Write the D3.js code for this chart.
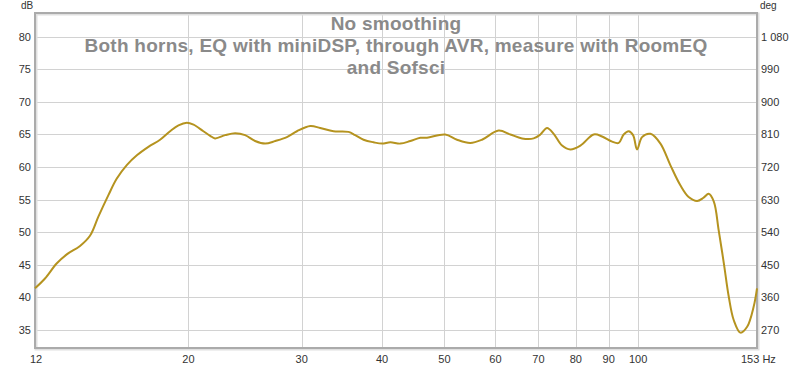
<!DOCTYPE html>
<html><head><meta charset="utf-8">
<script src="https://cdn.jsdelivr.net/npm/d3@7"></script>
<style>
html,body{margin:0;padding:0;background:#fff;}
svg{display:block;font-family:"Liberation Sans",Arial,sans-serif;}
</style></head>
<body>
<svg id="chart" width="800" height="368"></svg>
<script>
// ---- data ----
const freqs = [11.55,11.97,12.48,12.94,13.57,14.07,14.49,15.02,15.47,16.04,16.63,17.33,18.07,18.73,19.30,19.89,20.37,21.10,21.62,22.00,22.81,23.64,24.50,25.39,26.32,27.29,28.45,29.49,30.93,32.05,33.61,35.47,36.33,37.43,38.80,39.99,41.19,42.70,44.25,45.86,46.97,50.13,52.29,54.83,57.19,60.69,63.29,65.99,68.80,70.47,72.18,73.91,76.16,78.45,81.33,85.30,87.89,91.10,93.29,94.95,96.67,98.20,99.63,101.4,104.5,108.3,112.2,116.3,119.8,123.5,126.4,128.7,131.1,133.4,135.9,138.3,140.8,144.2,147.7,151.2,153];
const spl = [41.4,42.9,45.2,46.6,47.9,49.5,52.4,55.7,58.2,60.3,61.8,63.1,64.2,65.5,66.4,66.8,66.5,65.5,64.8,64.4,64.9,65.2,64.9,64.0,63.6,64.0,64.6,65.5,66.3,66.0,65.5,65.4,64.9,64.2,63.8,63.6,63.8,63.6,64.0,64.5,64.5,65.0,64.2,63.7,64.2,65.6,65.0,64.4,64.4,65.0,66.0,65.1,63.3,62.7,63.3,65.0,64.7,63.9,63.7,65.0,65.5,64.9,62.7,64.6,65.1,63.6,60.3,57.2,55.4,54.8,55.3,55.9,54.7,50.3,45.2,40.1,36.5,34.6,35.5,38.6,41.4];
const xTicks = [20,30,40,50,60,70,80,90,100];
const yTicks = [35,40,45,50,55,60,65,70,75,80];
const degTicks = [270,360,450,540,630,720,810,900,990,1080];
const titleLines = ["No smoothing","Both horns, EQ with miniDSP, through AVR, measure with RoomEQ","and Sofsci"];
const xEdgeLabels = ["12","153 Hz"];
const xDomain = [11.55,153];
const yDomain = [32.24,83.64];

// ---- layout ----
const L=35, R=757, T=13, B=348;
const svg = d3.select("#chart");
const x = d3.scaleLog().domain(xDomain).range([L,R]);
const y = d3.scaleLinear().domain(yDomain).range([B,T]);
const degOf = db => 270 + (db-35)*18;
const yDeg = d3.scaleLinear().domain(yDomain.map(degOf)).range([B,T]);

// grid
const g = svg.append("g");
g.selectAll("line.h").data(yTicks).enter().append("line")
  .attr("x1",L).attr("x2",R).attr("y1",d=>Math.round(y(d))+0.5).attr("y2",d=>Math.round(y(d))+0.5)
  .attr("stroke","#d2d2d2").attr("stroke-width",1);
g.selectAll("line.v").data(xTicks).enter().append("line")
  .attr("y1",T).attr("y2",B).attr("x1",d=>Math.round(x(d))+0.5).attr("x2",d=>Math.round(x(d))+0.5)
  .attr("stroke","#d2d2d2").attr("stroke-width",1);

// title
svg.append("g").selectAll("text").data(titleLines).enter().append("text")
  .attr("x",(L+R)/2).attr("y",(d,i)=>30+i*22)
  .attr("text-anchor","middle").attr("font-size",19).attr("letter-spacing",0.25).attr("font-weight","bold")
  .attr("fill","#8a8a8a").text(d=>d);

// frame with shadow
svg.append("rect").attr("x",L+1).attr("y",T+1).attr("width",R-L).attr("height",B-T)
  .attr("fill","none").attr("stroke","#e0e0e0").attr("stroke-width",3);
svg.append("rect").attr("x",L).attr("y",T).attr("width",R-L).attr("height",B-T)
  .attr("fill","none").attr("stroke","#ababab").attr("stroke-width",2);

// curve
const line = d3.line().x((d,i)=>x(freqs[i])).y(d=>y(d)).curve(d3.curveCatmullRom.alpha(0.5));
svg.append("path").datum(spl).attr("d",line)
  .attr("fill","none").attr("stroke","#b5931f").attr("stroke-width",2).attr("stroke-linejoin","round");

// axis labels
const lab = svg.append("g").attr("font-size",11).attr("fill","#333");
lab.selectAll("text.l").data(yTicks).enter().append("text")
  .attr("x",31).attr("y",d=>y(d)+4).attr("text-anchor","end").text(d=>d);
const fmtDeg = d => d>=1000 ? Math.floor(d/1000)+" "+String(d%1000).padStart(3,"0") : String(d);
lab.selectAll("text.r").data(degTicks).enter().append("text")
  .attr("x",761).attr("y",d=>yDeg(d)+4).attr("text-anchor","start").text(fmtDeg);
lab.selectAll("text.b").data(xTicks).enter().append("text")
  .attr("x",d=>x(d)).attr("y",363).attr("text-anchor","middle").text(d=>d);
lab.append("text").attr("x",x(xDomain[0])+1).attr("y",363).attr("text-anchor","middle").text(xEdgeLabels[0]);
lab.append("text").attr("x",x(xDomain[1])-16).attr("y",363).attr("text-anchor","start").text(xEdgeLabels[1]);
lab.append("text").attr("x",21).attr("y",9).attr("font-size",10).text("dB");
lab.append("text").attr("x",760).attr("y",9).attr("font-size",10).text("deg");
</script>
</body></html>
